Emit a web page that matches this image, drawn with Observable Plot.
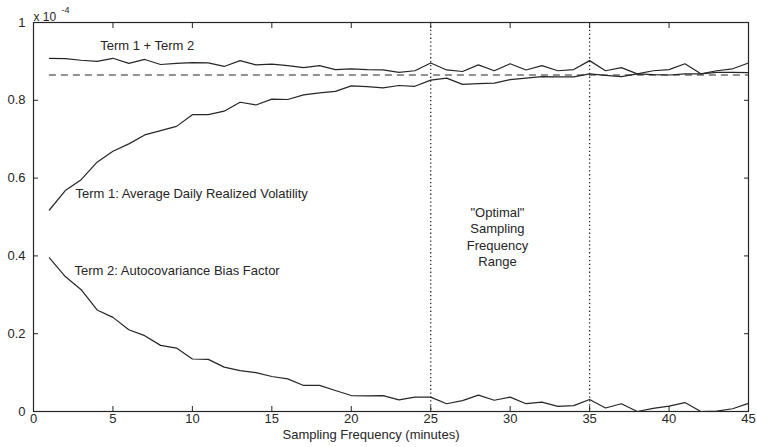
<!DOCTYPE html>
<html><head><meta charset="utf-8">
<script src="https://cdn.jsdelivr.net/npm/d3@7"></script>
<script src="https://cdn.jsdelivr.net/npm/@observablehq/plot@0.6"></script>
<style>body{margin:0;background:#fff}</style>
</head><body><div id="chart"></div>
<script>
const freq = [1,2,3,4,5,6,7,8,9,10,11,12,13,14,15,16,17,18,19,20,21,22,23,24,25,26,27,28,29,30,31,32,33,34,35,36,37,38,39,40,41,42,43,44,45];
const term1 = [0.518,0.568,0.596,0.641,0.669,0.688,0.711,0.722,0.733,0.763,0.763,0.772,0.795,0.788,0.803,0.802,0.814,0.819,0.823,0.837,0.835,0.832,0.838,0.836,0.852,0.857,0.841,0.843,0.844,0.853,0.857,0.861,0.860,0.860,0.868,0.864,0.861,0.868,0.866,0.865,0.868,0.868,0.872,0.872,0.871];
const term2 = [0.395,0.347,0.313,0.261,0.242,0.210,0.195,0.170,0.163,0.135,0.134,0.114,0.105,0.100,0.090,0.084,0.067,0.067,0.054,0.041,0.040,0.041,0.030,0.037,0.037,0.020,0.028,0.042,0.029,0.037,0.020,0.024,0.013,0.015,0.031,0.009,0.020,0.000,0.008,0.014,0.023,0.000,0.001,0.007,0.021];
const termSum = [0.908,0.907,0.903,0.900,0.908,0.895,0.905,0.892,0.895,0.897,0.896,0.887,0.902,0.891,0.893,0.889,0.884,0.889,0.879,0.881,0.879,0.878,0.872,0.876,0.896,0.878,0.874,0.891,0.876,0.894,0.878,0.889,0.876,0.879,0.902,0.876,0.884,0.868,0.876,0.879,0.894,0.868,0.876,0.881,0.896];
const dashedLevel = 0.865;
const optimalRange = [25, 35];
const xTicks = [0,5,10,15,20,25,30,35,40,45];
const yTicks = [0,0.2,0.4,0.6,0.8,1];
const yTickLabels = ["0","0.2","0.4","0.6","0.8","1"];
const xLabel = "Sampling Frequency (minutes)";
const scaleLabel = "x 10";
const scaleExp = "-4";
const labelSum = "Term 1 + Term 2";
const labelTerm1 = "Term 1: Average Daily Realized Volatility";
const labelTerm2 = "Term 2: Autocovariance Bias Factor";
const labelOptimal = "\"Optimal\"\nSampling\nFrequency\nRange";

const rows = (ys) => freq.map((x, i) => ({x, y: ys[i]}));
const ink = "#262626";

const chart = Plot.plot({
  width: 757, height: 447,
  marginLeft: 33, marginRight: 9, marginTop: 22, marginBottom: 36,
  style: {fontFamily: "'Liberation Sans', Arial, sans-serif", fontSize: "13px", color: ink, background: "#fff"},
  x: {domain: [0, 45]},
  y: {domain: [0, 1]},
  marks: [
    Plot.frame({stroke: ink, strokeWidth: 1.2}),
    Plot.axisX(xTicks, {anchor: "bottom", tickSize: -5, tickPadding: 7, tickFormat: d => String(d), label: null, stroke: ink}),
    Plot.axisX(xTicks, {anchor: "top", tickSize: -5, tickFormat: () => "", label: null, stroke: ink}),
    Plot.axisY(yTicks, {anchor: "left", tickSize: -5, tickPadding: 13, tickFormat: (d, i) => yTickLabels[i], label: null, stroke: ink}),
    Plot.axisY(yTicks, {anchor: "right", tickSize: -5, tickFormat: () => "", label: null, stroke: ink}),
    Plot.ruleX(optimalRange, {stroke: ink, strokeWidth: 1.3, strokeDasharray: "1.3,2.6"}),
    Plot.ruleY([dashedLevel], {x1: freq[0], x2: freq[freq.length - 1], stroke: ink, strokeWidth: 1.2, strokeDasharray: "7,5"}),
    Plot.line(rows(termSum), {x: "x", y: "y", stroke: ink, strokeWidth: 1.2}),
    Plot.line(rows(term1), {x: "x", y: "y", stroke: ink, strokeWidth: 1.2}),
    Plot.line(rows(term2), {x: "x", y: "y", stroke: ink, strokeWidth: 1.2}),
    Plot.text([labelSum], {x: 4.2, y: 0.941, text: d => d, textAnchor: "start", fill: ink}),
    Plot.text([labelTerm1], {x: 2.64, y: 0.560, text: d => d, textAnchor: "start", fill: ink}),
    Plot.text([labelTerm2], {x: 2.58, y: 0.362, text: d => d, textAnchor: "start", fill: ink}),
    Plot.text([labelOptimal], {x: 29.2, y: 0.45, text: d => d, textAnchor: "middle", lineHeight: 1.27, fill: ink}),
    Plot.text([xLabel], {frameAnchor: "bottom", dx: -20, dy: 27, text: d => d, fill: ink}),
    Plot.text([scaleLabel], {frameAnchor: "top-left", dy: -10, text: d => d, textAnchor: "start", fontSize: 12, fill: ink}),
    Plot.text([scaleExp], {frameAnchor: "top-left", dx: 28, dy: -16, text: d => d, textAnchor: "start", fontSize: 9, fill: ink})
  ]
});
document.getElementById("chart").append(chart);
</script>
</body></html>
